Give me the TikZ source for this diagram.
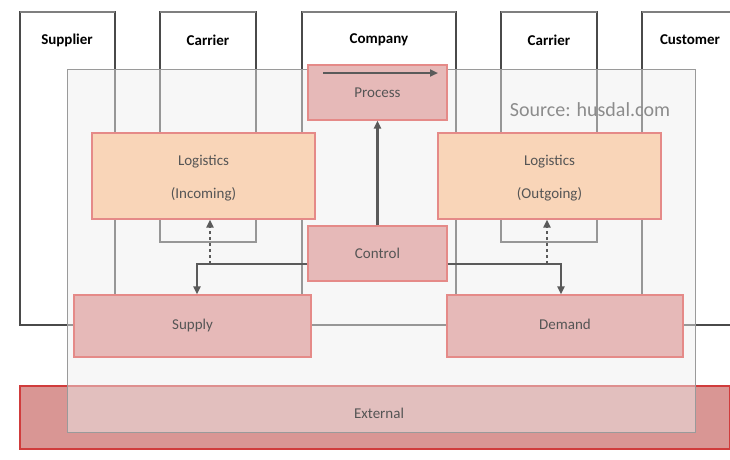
\documentclass[tikz,border=0pt]{standalone}
\usepackage{fontspec}
\setmainfont{Carlito}
\usetikzlibrary{arrows.meta}
\definecolor{colline}{HTML}{4A4A4A}
\definecolor{coltop}{HTML}{7F7F7F}
\definecolor{boxfill}{HTML}{E6B9B8}
\definecolor{boxdraw}{HTML}{E58A88}
\definecolor{peach}{HTML}{F9D5B8}
\definecolor{extfill}{HTML}{D99694}
\definecolor{extdraw}{HTML}{D03C3C}
\definecolor{txtgray}{HTML}{555555}
\definecolor{srcgray}{HTML}{8C8C8C}
\definecolor{panelfill}{HTML}{EEEEEE}
\definecolor{paneldraw}{HTML}{9A9A9A}
\definecolor{arrgray}{HTML}{5A5A5A}
\begin{document}
\begin{tikzpicture}[x=1pt,y=-1pt,
  colside/.style={draw=colline,line width=1.2pt},
  coltopline/.style={draw=coltop,line width=2.2pt},
  collabel/.style={font=\fontsize{15}{17}\selectfont\bfseries,text=black},
  redbox/.style={draw=boxdraw,fill=boxfill,line width=1.2pt,inner sep=0pt,
    font=\fontsize{15}{17}\selectfont,text=txtgray,align=center},
  peachbox/.style={draw=boxdraw,fill=peach,line width=1.2pt,inner sep=0pt},
  boxtext/.style={font=\fontsize{15}{33}\selectfont,text=txtgray,align=center,inner sep=0pt},
  arr/.style={draw=arrgray,line width=2.2pt,-{Triangle[length=8pt,width=7pt]}},
  dasharr/.style={draw=arrgray,line width=2.2pt,dash pattern=on 3pt off 3pt,
    -{Triangle[length=8pt,width=7pt]}}]
\useasboundingbox (0,0) rectangle (730,459);
% columns
\draw[colside] (115,295) -- (115,12) -- (20,12) -- (20,325) -- (730,325);
\draw[colside] (160,12) rectangle (256,242);
\draw[colside] (302,295) -- (302,12) -- (456,12) -- (456,295);
\draw[colside] (501,12) rectangle (597,242);
\draw[colside] (642,295) -- (642,12) -- (731,12);
\draw[coltopline] (20,12) -- (115,12);
\draw[coltopline] (160,12) -- (256,12);
\draw[coltopline] (302,12) -- (456,12);
\draw[coltopline] (501,12) -- (597,12);
\draw[coltopline] (642,12) -- (731,12);
\node[collabel] (lsup) at (67,40) {Supplier};
\node[collabel] (lcar1) at (208,40) {Carrier};
\node[collabel] (lcomp) at (379,40) {Company};
\node[collabel] (lcar2) at (549,40) {Carrier};
\node[collabel] (lcust) at (690,40) {Customer};
% external
\node[draw=extdraw,fill=extfill,line width=1.5pt,minimum width=710pt,minimum height=63pt,
  inner sep=0pt] (external) at (375,417.5) {};
% translucent panel
\path[draw=paneldraw,line width=1pt,fill=panelfill,fill opacity=0.47] (67,69) rectangle (695,432);
\node[boxtext] (exttext) at (379,413) {External};
\node[text=srcgray,font=\fontsize{20}{24}\selectfont,anchor=center] (source) at (590,110) {Source: husdal.com};
% boxes
\node[redbox,minimum width=139pt,minimum height=55pt] (process) at (377.5,92.5) {\raisebox{-1.5pt}{Process}};
\node[peachbox,minimum width=223pt,minimum height=86pt] (login) at (203.5,176) {};
\node[boxtext] (logintext) at ([yshift=-2.5pt]login.center) {Logistics\\(Incoming)};
\node[peachbox,minimum width=223pt,minimum height=86pt] (logout) at (549.5,176) {};
\node[boxtext] (logouttext) at ([yshift=-2.5pt]logout.center) {Logistics\\(Outgoing)};
\node[redbox,minimum width=139pt,minimum height=55pt] (control) at (377.5,253.5) {Control};
\node[redbox,minimum width=237pt,minimum height=62pt] (supply) at (192.5,326) {\raisebox{3pt}{Supply}};
\node[redbox,minimum width=236pt,minimum height=62pt] (demand) at (565,326) {\raisebox{3pt}{Demand}};
% connectors
\coordinate (pa1) at (323,73);
\coordinate (pa2) at (438,73);
\draw[arr] (pa1) -- (pa2);
\draw[arr] (control.north) -- (process.south);
\coordinate (dl) at (210,264);
\coordinate (dr) at (547,264);
\draw[dasharr] (dl) -- (dl |- login.south);
\draw[dasharr] (dr) -- (dr |- logout.south);
\draw[arr] ([yshift=-10.5pt]control.west) -| ([xshift=4.5pt]supply.north);
\draw[arr] ([yshift=-10.5pt]control.east) -| ([xshift=-4pt]demand.north);
\end{tikzpicture}
\end{document}
